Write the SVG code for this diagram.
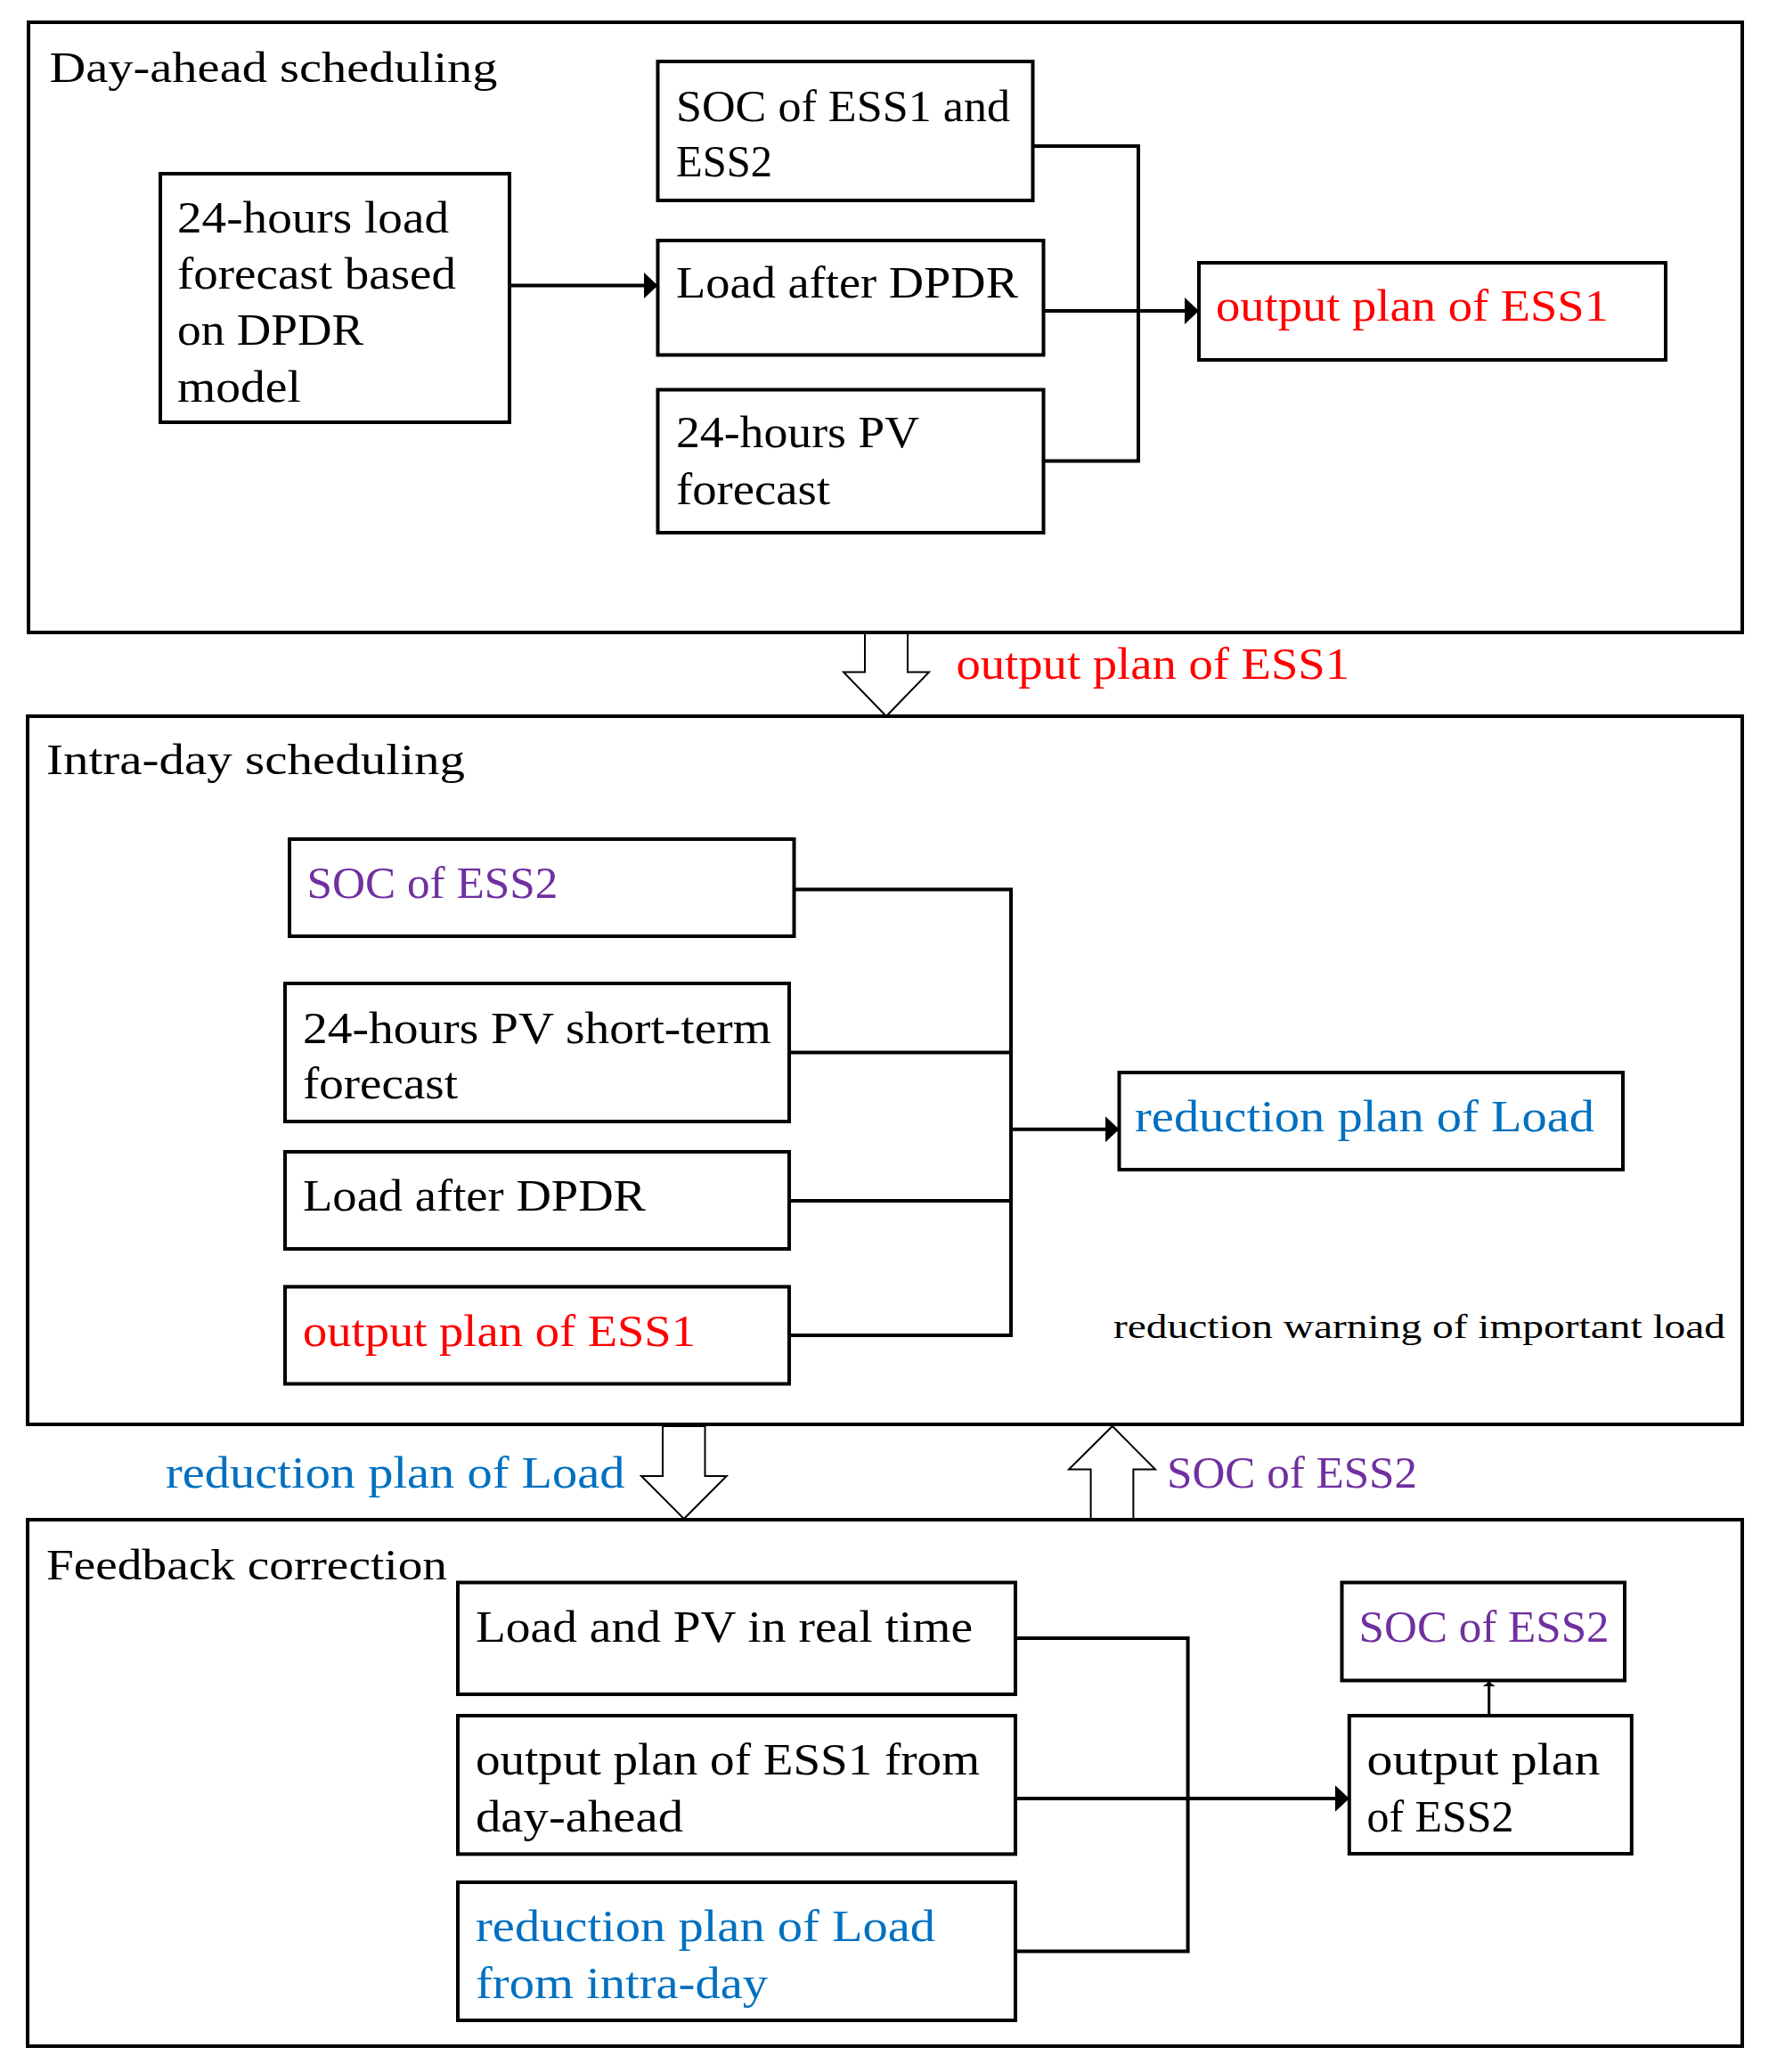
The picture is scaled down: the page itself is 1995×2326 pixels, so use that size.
<svg xmlns="http://www.w3.org/2000/svg" width="1995" height="2326" viewBox="0 0 1995 2326">
<style>
text{font-family:"Liberation Serif","Times New Roman",serif;font-size:51px;fill:#000}
.t{font-size:48px}
.s{font-size:37px}
.red{fill:#FF0000}
.blue{fill:#0070C0}
.pur{fill:#7030A0}
.sec{fill:none;stroke:#000;stroke-width:4}
.box{fill:#fff;stroke:#000;stroke-width:4}
.con{fill:none;stroke:#000;stroke-width:4}
.hol{fill:#fff;stroke:#000;stroke-width:2}
</style>
<defs>
<marker id="ah" viewBox="0 0 16 30" refX="16" refY="15" markerWidth="16" markerHeight="30" markerUnits="userSpaceOnUse" orient="auto">
<path d="M0,0 L16,15 L0,30 z" fill="#000"/>
</marker>
<marker id="ahs" viewBox="0 0 5 14" refX="5" refY="7" markerWidth="5" markerHeight="14" markerUnits="userSpaceOnUse" orient="auto">
<path d="M0,0 L5,7 L0,14 z" fill="#000"/>
</marker>
</defs>

<g id="day-ahead">
<rect class="sec" x="32" y="25" width="1924" height="685"/>
<text class="t" x="55.5" y="92" textLength="503" lengthAdjust="spacingAndGlyphs">Day-ahead scheduling</text>
</g>
<g id="load-forecast">
<rect class="box" x="180" y="195" width="392" height="279"/>
<text x="199" y="261" textLength="305" lengthAdjust="spacingAndGlyphs">24-hours load</text>
<text x="199" y="324" textLength="313" lengthAdjust="spacingAndGlyphs">forecast based</text>
<text x="199" y="387" textLength="209" lengthAdjust="spacingAndGlyphs">on DPDR</text>
<text x="199" y="451" textLength="139" lengthAdjust="spacingAndGlyphs">model</text>
</g>
<g id="soc-ess12">
<rect class="box" x="738.5" y="69" width="421" height="156"/>
<text x="759" y="135.5" textLength="375" lengthAdjust="spacingAndGlyphs">SOC of ESS1 and</text>
<text x="759" y="197.5" textLength="108" lengthAdjust="spacingAndGlyphs">ESS2</text>
</g>
<g id="load-after-1">
<rect class="box" x="738.5" y="270" width="433" height="128.5"/>
<text x="759" y="334" textLength="384" lengthAdjust="spacingAndGlyphs">Load after DPDR</text>
</g>
<g id="pv-forecast">
<rect class="box" x="738.5" y="437.5" width="433" height="160.5"/>
<text x="759" y="502" textLength="273" lengthAdjust="spacingAndGlyphs">24-hours PV</text>
<text x="759" y="565.6" textLength="173" lengthAdjust="spacingAndGlyphs">forecast</text>
</g>
<g id="ess1-plan-1">
<rect class="box" x="1346" y="295" width="524" height="109"/>
<text class="red" x="1365" y="360" textLength="441" lengthAdjust="spacingAndGlyphs">output plan of ESS1</text>
</g>

<g id="intra-day">
<rect class="sec" x="31" y="804" width="1925" height="795"/>
<text class="t" x="52" y="869" textLength="470" lengthAdjust="spacingAndGlyphs">Intra-day scheduling</text>
<text class="s" x="1250" y="1502" textLength="687" lengthAdjust="spacingAndGlyphs">reduction warning of important load</text>
</g>
<g id="soc-ess2-1">
<rect class="box" x="325" y="942" width="566.5" height="109"/>
<text class="pur" x="344.4" y="1008" textLength="282" lengthAdjust="spacingAndGlyphs">SOC of ESS2</text>
</g>
<g id="pv-short">
<rect class="box" x="320" y="1104" width="566" height="155"/>
<text x="340" y="1171" textLength="526" lengthAdjust="spacingAndGlyphs">24-hours PV short-term</text>
<text x="340" y="1233" textLength="174" lengthAdjust="spacingAndGlyphs">forecast</text>
</g>
<g id="load-after-2">
<rect class="box" x="320" y="1293" width="566" height="109"/>
<text x="340" y="1359" textLength="385" lengthAdjust="spacingAndGlyphs">Load after DPDR</text>
</g>
<g id="ess1-plan-2">
<rect class="box" x="320" y="1444.5" width="566" height="109"/>
<text class="red" x="340" y="1511" textLength="441" lengthAdjust="spacingAndGlyphs">output plan of ESS1</text>
</g>
<g id="reduction-1">
<rect class="box" x="1256.5" y="1204" width="565.5" height="109"/>
<text class="blue" x="1274" y="1270" textLength="516" lengthAdjust="spacingAndGlyphs">reduction plan of Load</text>
</g>

<g id="feedback">
<rect class="sec" x="31" y="1706" width="1925" height="591"/>
<text class="t" x="52" y="1772.7" textLength="450" lengthAdjust="spacingAndGlyphs">Feedback correction</text>
</g>
<g id="load-pv-rt">
<rect class="box" x="514" y="1776.5" width="626" height="125.5"/>
<text x="534" y="1843" textLength="558" lengthAdjust="spacingAndGlyphs">Load and PV in real time</text>
</g>
<g id="ess1-from-day">
<rect class="box" x="514" y="1926" width="626" height="155.4"/>
<text x="534" y="1991.5" textLength="566" lengthAdjust="spacingAndGlyphs">output plan of ESS1 from</text>
<text x="534" y="2055.7" textLength="233" lengthAdjust="spacingAndGlyphs">day-ahead</text>
</g>
<g id="reduction-from-intra">
<rect class="box" x="514" y="2113" width="626" height="155"/>
<text class="blue" x="534" y="2178.5" textLength="516" lengthAdjust="spacingAndGlyphs">reduction plan of Load</text>
<text class="blue" x="534" y="2242.7" textLength="328" lengthAdjust="spacingAndGlyphs">from intra-day</text>
</g>
<g id="ess2-plan">
<rect class="box" x="1514.8" y="1926" width="317" height="155"/>
<text x="1534.5" y="1991.5" textLength="262" lengthAdjust="spacingAndGlyphs">output plan</text>
<text x="1534.5" y="2055.7" textLength="165" lengthAdjust="spacingAndGlyphs">of ESS2</text>
</g>
<g id="soc-ess2-2">
<rect class="box" x="1506.5" y="1776.5" width="317.5" height="110"/>
<text class="pur" x="1525.6" y="1843" textLength="281" lengthAdjust="spacingAndGlyphs">SOC of ESS2</text>
</g>

<g id="connectors">
<line class="con" x1="572" y1="320.5" x2="738.5" y2="320.5" marker-end="url(#ah)"/>
<polyline class="con" points="1159.5,164 1278,164 1278,517.5 1171,517.5"/>
<line class="con" x1="1171" y1="349" x2="1346" y2="349" marker-end="url(#ah)"/>

<polyline class="con" points="891.5,998.5 1135,998.5 1135,1499 886,1499"/>
<line class="con" x1="886" y1="1181.6" x2="1135" y2="1181.6"/>
<line class="con" x1="886" y1="1348" x2="1135" y2="1348"/>
<line class="con" x1="1135" y1="1267.7" x2="1256.5" y2="1267.7" marker-end="url(#ah)"/>

<polyline class="con" points="1140,1839 1333.6,1839 1333.6,2190.4 1140,2190.4"/>
<line class="con" x1="1140" y1="2019" x2="1514.8" y2="2019" marker-end="url(#ah)"/>
<line class="con" style="stroke-width:3" x1="1671.7" y1="1926" x2="1671.7" y2="1888" marker-end="url(#ahs)"/>

<polygon class="hol" points="971,711 1019,711 1019,754.5 1043,754.5 995,804 947,754.5 971,754.5"/>
<polygon class="hol" points="744,1601 791.5,1601 791.5,1657 815.7,1657 767.8,1705 720,1657 744,1657"/>
<polygon class="hol" points="1224.6,1705 1272.4,1705 1272.4,1649.5 1297,1649.5 1248.8,1601 1200,1649.5 1224.6,1649.5"/>
<text class="red" x="1073.5" y="762" textLength="441.5" lengthAdjust="spacingAndGlyphs">output plan of ESS1</text>
<text class="blue" x="186" y="1670" textLength="515.5" lengthAdjust="spacingAndGlyphs">reduction plan of Load</text>
<text class="pur" x="1310" y="1670" textLength="281" lengthAdjust="spacingAndGlyphs">SOC of ESS2</text>
</g>
</svg>
